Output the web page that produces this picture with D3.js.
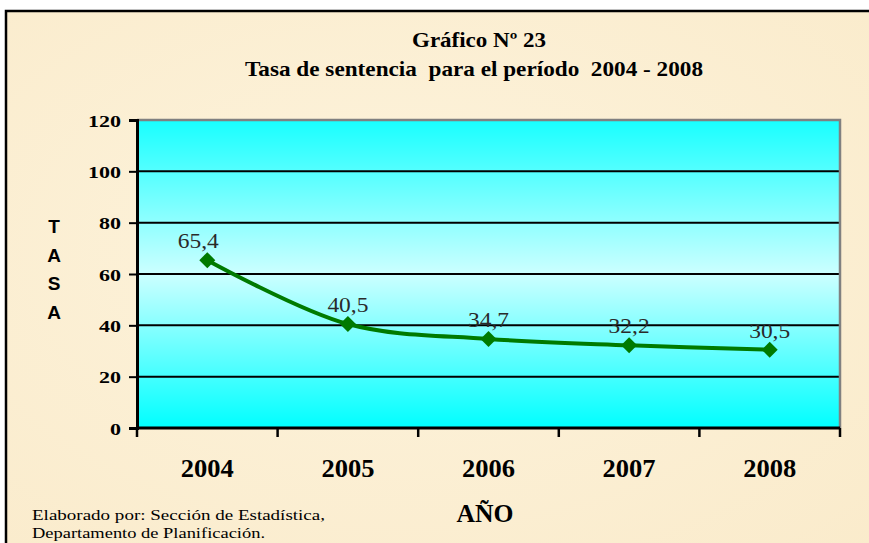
<!DOCTYPE html>
<html>
<head>
<meta charset="utf-8">
<script src="https://cdn.jsdelivr.net/npm/d3@7"></script>
<style>
  html, body { margin: 0; padding: 0; background: #fff; }
  svg { display: block; }
</style>
</head>
<body>
<div id="chart"></div>
<script>
// data
const years = ["2004", "2005", "2006", "2007", "2008"];
const tasa = [65.4, 40.5, 34.7, 32.2, 30.5];
const yTicks = [0, 20, 40, 60, 80, 100, 120];
const axisLetters = ["T", "A", "S", "A"];
const sourceLines = ["Elaborado por: Sección de Estadística,", "Departamento de Planificación."];

const SERIF = "'Liberation Serif', 'Times New Roman', Times, serif";
const SANS = "'Liberation Sans', Arial, sans-serif";

const W = 869, H = 543;
const margin = { top: 120, right: 29, bottom: 115, left: 137 };
const width = W - margin.left - margin.right;
const height = H - margin.top - margin.bottom;

const svg = d3.select("#chart").append("svg")
    .attr("width", W)
    .attr("height", H);

const defs = svg.append("defs");

// parchment background
const bg = defs.append("radialGradient").attr("id", "paper")
    .attr("cx", "45%").attr("cy", "45%").attr("r", "80%");
bg.append("stop").attr("offset", "0%").attr("stop-color", "#fdf3dc");
bg.append("stop").attr("offset", "100%").attr("stop-color", "#faebcb");

const plotGrad = defs.append("linearGradient").attr("id", "plotFill")
    .attr("x1", 0).attr("y1", 0).attr("x2", 0).attr("y2", 1);
plotGrad.append("stop").attr("offset", "0%").attr("stop-color", "#18ffff");
plotGrad.append("stop").attr("offset", "50%").attr("stop-color", "#ccffff");
plotGrad.append("stop").attr("offset", "100%").attr("stop-color", "#00ffff");

svg.append("rect").attr("width", W).attr("height", H).attr("fill", "#ffffff");
svg.append("rect")
    .attr("x", 6).attr("y", 11)
    .attr("width", W - 6).attr("height", H - 11)
    .attr("fill", "url(#paper)");

// frame (left + top visible)
svg.append("path")
    .attr("d", `M6,${H} L6,11 L${W},11`)
    .attr("fill", "none")
    .attr("stroke", "#000")
    .attr("stroke-width", 2.5);

// titles
svg.append("text")
    .attr("x", 479).attr("y", 47)
    .attr("text-anchor", "middle")
    .attr("textLength", 134)
    .attr("lengthAdjust", "spacingAndGlyphs")
    .style("font-family", SERIF)
    .style("font-weight", "bold")
    .style("font-size", "21px")
    .text("Gráfico Nº 23");

svg.append("text")
    .attr("x", 474).attr("y", 76)
    .attr("text-anchor", "middle")
    .attr("xml:space", "preserve")
    .attr("textLength", 458)
    .attr("lengthAdjust", "spacingAndGlyphs")
    .style("font-family", SERIF)
    .style("font-weight", "bold")
    .style("font-size", "21px")
    .text("Tasa de sentencia  para el período  2004 - 2008");

const g = svg.append("g")
    .attr("transform", `translate(${margin.left},${margin.top})`);

const x = d3.scaleBand().domain(years).range([0, width]);
const y = d3.scaleLinear().domain([0, 120]).range([height, 0]);

g.append("rect")
    .attr("width", width).attr("height", height)
    .attr("fill", "url(#plotFill)");

// gridlines
g.append("g")
    .selectAll("line")
    .data(yTicks.filter(d => d > 0 && d < 120))
    .join("line")
    .attr("x1", 0).attr("x2", width)
    .attr("y1", d => y(d)).attr("y2", d => y(d))
    .attr("stroke", "#000")
    .attr("stroke-width", 2);

// top and right border (grey)
g.append("path")
    .attr("d", `M0,0 L${width},0 L${width},${height}`)
    .attr("fill", "none")
    .attr("stroke", "#808080")
    .attr("stroke-width", 2.5);

// y axis
const yAxis = g.append("g")
    .call(d3.axisLeft(y).tickValues(yTicks).tickSize(8).tickPadding(8).tickFormat(d3.format("d")));
yAxis.select(".domain").attr("stroke", "#000").attr("stroke-width", 3);
yAxis.selectAll(".tick line").attr("stroke", "#000").attr("stroke-width", 2);
yAxis.selectAll("text")
    .attr("dy", "0.36em")
    .attr("textLength", d => String(d).length * 11)
    .attr("lengthAdjust", "spacingAndGlyphs")
    .style("font-family", SERIF)
    .style("font-weight", "bold")
    .style("font-size", "17px")
    .style("fill", "#000");

// x axis: ticks at category boundaries
const bounds = years.map(d => x(d)).concat([width]);
g.append("line")
    .attr("x1", 0).attr("x2", width)
    .attr("y1", height).attr("y2", height)
    .attr("stroke", "#000").attr("stroke-width", 3);
g.append("g").selectAll("line")
    .data(bounds)
    .join("line")
    .attr("x1", d => d).attr("x2", d => d)
    .attr("y1", height).attr("y2", height + 9)
    .attr("stroke", "#000").attr("stroke-width", 2.5);

g.append("g").selectAll("text")
    .data(years)
    .join("text")
    .attr("x", d => x(d) + x.bandwidth() / 2)
    .attr("y", height + 49)
    .attr("text-anchor", "middle")
    .attr("textLength", 53)
    .attr("lengthAdjust", "spacingAndGlyphs")
    .style("font-family", SERIF)
    .style("font-weight", "bold")
    .style("font-size", "26px")
    .text(d => d);

// line
const pts = years.map((d, i) => ({ year: d, value: tasa[i] }));
const line = d3.line()
    .x(d => x(d.year) + x.bandwidth() / 2)
    .y(d => y(d.value))
    .curve(d3.curveCatmullRom.alpha(0.5));

g.append("path")
    .datum(pts)
    .attr("d", line)
    .attr("fill", "none")
    .attr("stroke", "#007a00")
    .attr("stroke-width", 4);

g.selectAll(".marker")
    .data(pts)
    .join("path")
    .attr("class", "marker")
    .attr("transform", d => `translate(${x(d.year) + x.bandwidth() / 2},${y(d.value)})`)
    .attr("d", "M0,-8 L8,0 L0,8 L-8,0 Z")
    .attr("fill", "#007a00");

g.selectAll(".lbl")
    .data(pts)
    .join("text")
    .attr("class", "lbl")
    .attr("x", (d, i) => x(d.year) + x.bandwidth() / 2 - (i === 0 ? 9 : 0))
    .attr("y", d => y(d.value) - 12)
    .attr("text-anchor", "middle")
    .attr("textLength", 41)
    .attr("lengthAdjust", "spacingAndGlyphs")
    .style("font-family", SERIF)
    .style("font-size", "22px")
    .style("fill", "#2a2a2a")
    .text(d => d3.format(".1f")(d.value).replace(".", ","));

// axis titles
svg.append("g").selectAll("text")
    .data(axisLetters)
    .join("text")
    .attr("x", 54)
    .attr("y", (d, i) => 233 + i * 28.5)
    .attr("text-anchor", "middle")
    .style("font-family", SANS)
    .style("font-weight", "bold")
    .style("font-size", "19px")
    .text(d => d);

svg.append("text")
    .attr("x", 485).attr("y", 522)
    .attr("text-anchor", "middle")
    .attr("textLength", 57)
    .attr("lengthAdjust", "spacingAndGlyphs")
    .style("font-family", SERIF)
    .style("font-weight", "bold")
    .style("font-size", "25px")
    .text("AÑO");

// source note
const srcWidths = [293, 233];
svg.append("g").selectAll("text")
    .data(sourceLines)
    .join("text")
    .attr("x", 32)
    .attr("y", (d, i) => 520 + i * 18)
    .attr("textLength", (d, i) => srcWidths[i])
    .attr("lengthAdjust", "spacingAndGlyphs")
    .style("font-family", SERIF)
    .style("font-size", "15px")
    .text(d => d);
</script>
</body>
</html>
